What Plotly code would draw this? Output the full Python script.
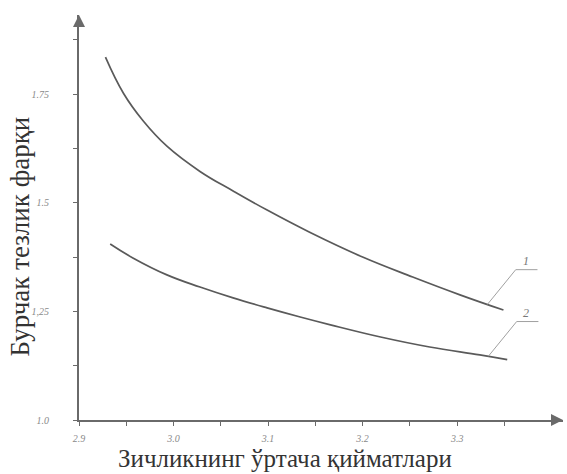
import numpy as np
import plotly.graph_objects as go

# Curve 1 (upper) and curve 2 (lower): velocity difference vs mean density
x1 = [2.928, 2.947, 2.968, 2.993, 3.028, 3.063, 3.099, 3.144, 3.200, 3.253, 3.303, 3.349]
y1 = [1.835, 1.752, 1.688, 1.630, 1.572, 1.527, 1.483, 1.432, 1.375, 1.329, 1.288, 1.253]

x2 = [2.933, 2.957, 2.993, 3.028, 3.063, 3.099, 3.134, 3.166, 3.219, 3.271, 3.324, 3.353]
y2 = [1.405, 1.373, 1.334, 1.306, 1.281, 1.258, 1.237, 1.219, 1.191, 1.168, 1.150, 1.139]

x_ticks = [2.9, 2.95, 3.0, 3.05, 3.1, 3.15, 3.2, 3.25, 3.3, 3.35]
x_labels = ["2.9", "", "3.0", "", "3.1", "", "3.2", "", "3.3", ""]
y_ticks = [1.0, 1.125, 1.25, 1.375, 1.5, 1.625, 1.75, 1.875]
y_labels = ["1.0", "", "1,25", "", "1.5", "", "1.75", ""]

curve_labels = ["1", "2"]
leader_x = [3.332, 3.333]

X_MIN, X_MAX = 2.9, 3.412
Y_MIN, Y_MAX = 1.0, 1.932

line_col = "#5a5a5a"
axis_col = "#6a6a6a"
tick_font = dict(family="Liberation Serif", size=10, color="#8a8a8a", style="italic")

fig = go.Figure()
for xs, ys in [(x1, y1), (x2, y2)]:
    fig.add_trace(go.Scatter(x=xs, y=ys, mode="lines",
                             line=dict(color=line_col, width=1.7, shape="spline",
                                       smoothing=1.2),
                             showlegend=False, hoverinfo="skip"))

# Leader lines with curve numbers
ann = []
for lx, xs, ys, lab in zip(leader_x, [x1, x2], [y1, y2], curve_labels):
    y0 = float(np.interp(lx, xs, ys))
    dx, dy, dh = 0.030, 0.080, 0.023
    fig.add_trace(go.Scatter(x=[lx, lx + dx, lx + dx + dh],
                             y=[y0, y0 + dy, y0 + dy],
                             mode="lines", line=dict(color="#a0a0a0", width=1),
                             showlegend=False, hoverinfo="skip"))
    ann.append(dict(x=lx + dx + dh * 0.45, y=y0 + dy, text=lab, showarrow=False,
                    yanchor="bottom", xanchor="center",
                    font=dict(family="Liberation Serif", size=12, color="#777777",
                              style="italic")))

# Axis arrowheads
ann.append(dict(x=X_MAX, y=Y_MIN, ax=-12, ay=0, axref="pixel", ayref="pixel",
                showarrow=True, arrowhead=2, arrowsize=1.2, arrowwidth=2,
                arrowcolor=axis_col, text=""))
ann.append(dict(x=X_MIN, y=Y_MAX, ax=0, ay=12, axref="pixel", ayref="pixel",
                showarrow=True, arrowhead=2, arrowsize=1.2, arrowwidth=2,
                arrowcolor=axis_col, text=""))

# Axis titles
ann.append(dict(x=0.5, y=-0.058, xref="paper", yref="paper", xanchor="center",
                yanchor="top", xshift=-36, showarrow=False,
                text="Зичликнинг ўртача қийматлари",
                font=dict(family="Liberation Serif", size=25, color="#333333")))
ann.append(dict(x=0, y=0.5, xref="paper", yref="paper", xanchor="center",
                yanchor="middle", xshift=-60, yshift=-19, showarrow=False, textangle=-90,
                text="Бурчак тезлик фарқи",
                font=dict(family="Liberation Serif", size=27, color="#333333")))

fig.update_layout(
    width=567, height=474,
    margin=dict(l=79, r=4, t=15, b=54),
    paper_bgcolor="white", plot_bgcolor="white",
    annotations=ann,
    xaxis=dict(range=[X_MIN, X_MAX], showgrid=False, zeroline=False,
               showline=True, linecolor=axis_col, linewidth=2,
               tickmode="array", tickvals=x_ticks, ticktext=x_labels,
               ticks="outside", ticklen=4, tickcolor=axis_col, tickwidth=1,
               tickfont=tick_font, ticklabelstandoff=4),
    yaxis=dict(range=[Y_MIN, Y_MAX], showgrid=False, zeroline=False,
               showline=True, linecolor=axis_col, linewidth=2,
               tickmode="array", tickvals=y_ticks, ticktext=y_labels,
               ticks="outside", ticklen=4, tickcolor=axis_col, tickwidth=1,
               tickfont=tick_font, ticklabelstandoff=22),
)

fig.write_html("out.html")
